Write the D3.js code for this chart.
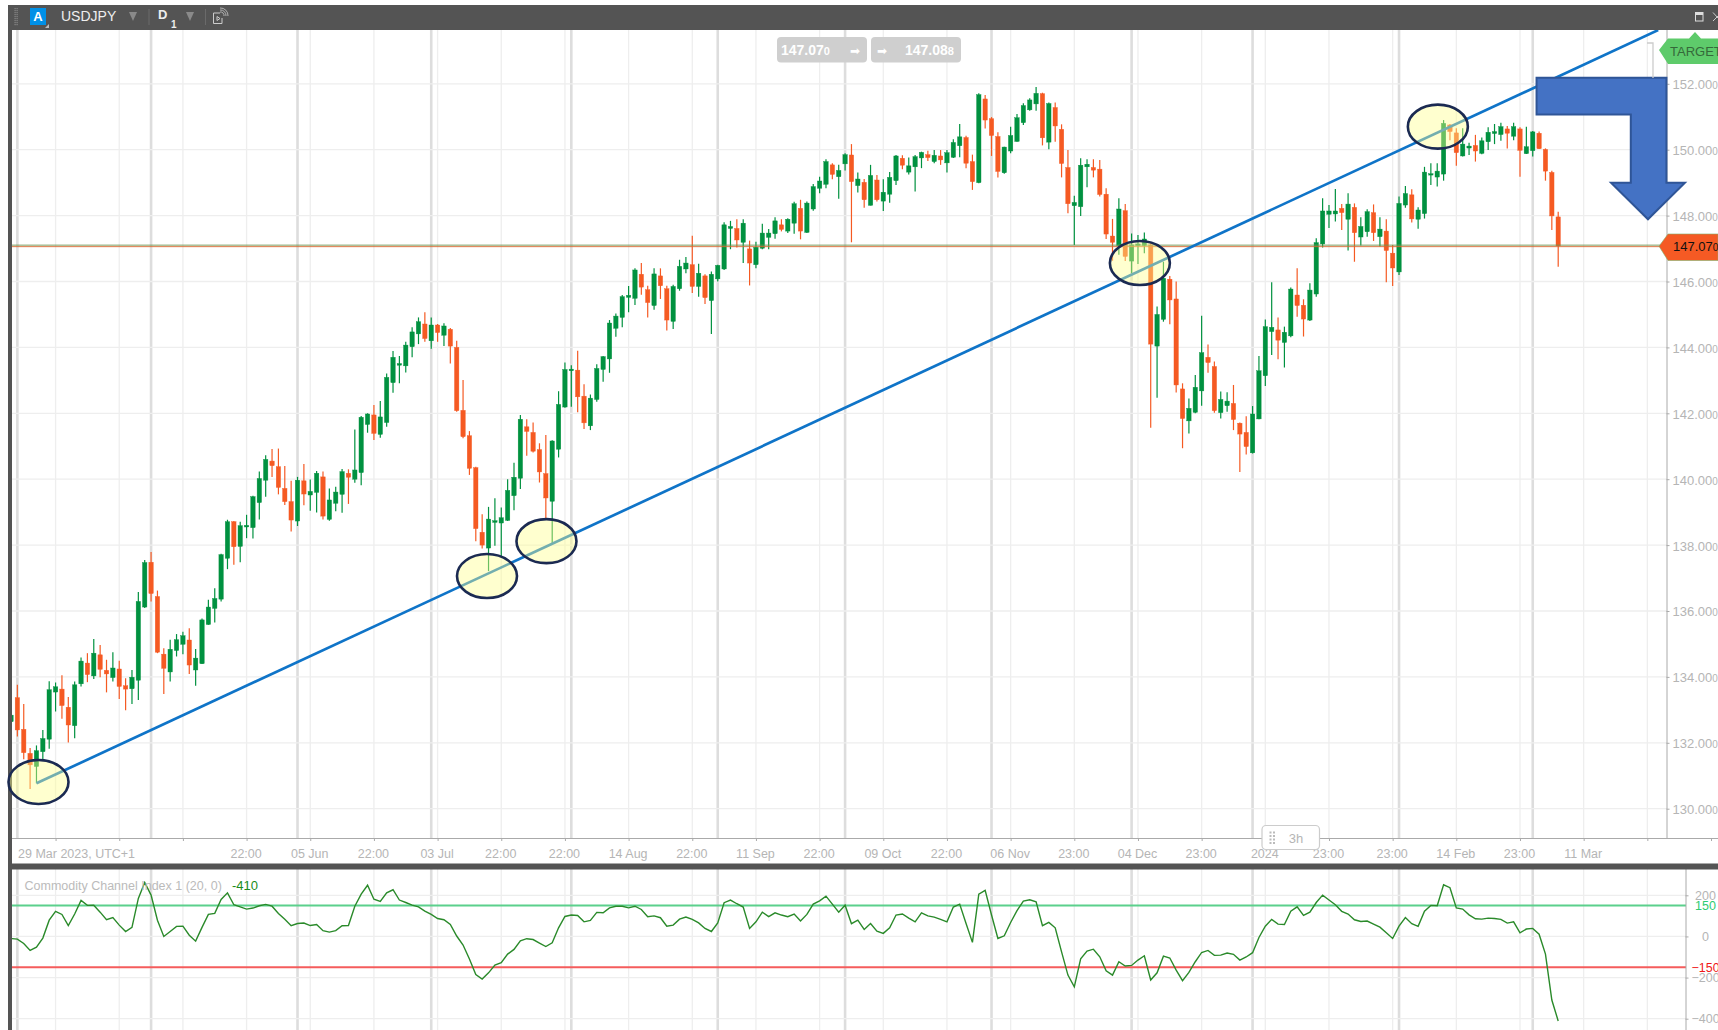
<!DOCTYPE html>
<meta charset="utf-8">

<style>
  body {
    margin: 0px;
    background: white;
    overflow: hidden;
  }

  svg {
    display: block;
  }

  text {
    font-family: "Liberation Sans", Arial, sans-serif;
  }

  .axis path, .axis line {
    stroke: #aaa;
  }

  .axis text {
    fill: #b5b5b5;
    font-size: 12.5px;
  }
</style>

<script src="https://d3js.org/d3.v7.min.js"></script>

<body>
  <svg id="chart" width="1718" height="1030"></svg>
</body>

<script>
const symbol = 'USDJPY';
const bid = 147.070;
const ask = 147.088;

const opens = [
  132.64,133.37,132.41,131.68,131.28,131.73,132.11,133.54,133.63,133.08,
  132.52,133.79,134.42,134.03,134.67,134.20,133.98,134.24,133.73,133.64,
  133.90,136.12,137.48,136.44,134.69,134.15,134.80,134.99,135.12,134.21,
  134.40,135.59,136.08,136.36,137.60,138.71,137.96,138.55,138.53,139.29,
  139.97,140.55,140.38,139.72,139.32,138.73,139.95,139.52,139.60,140.07,
  138.78,139.27,139.54,140.18,140.00,140.20,141.66,141.95,141.36,141.72,
  142.93,143.46,143.44,144.02,144.41,144.71,144.20,144.68,144.37,144.55,
  144.00,142.09,141.32,140.35,138.39,137.91,138.69,138.67,138.75,139.50,
  140.03,141.59,141.42,140.90,140.17,139.33,140.91,142.19,143.29,143.31,
  142.52,141.62,142.42,143.33,143.65,144.58,144.91,145.52,145.49,146.22,
  145.75,145.27,146.17,145.78,144.79,145.78,146.38,146.51,145.85,146.17,
  145.42,146.08,146.38,147.61,147.61,147.19,146.99,146.51,147.01,147.34,
  147.45,147.72,147.53,147.77,148.22,147.49,148.20,148.83,148.95,149.54,
  149.18,149.57,149.84,148.91,149.01,148.31,149.08,148.44,148.65,149.06,
  149.74,149.32,149.48,149.75,149.85,149.64,149.81,149.60,149.77,150.12,
  150.37,149.64,149.00,151.54,150.94,150.40,149.30,149.96,150.25,150.82,
  151.21,151.39,151.70,150.23,151.28,150.62,149.46,148.30,148.27,149.48,
  149.46,149.41,148.65,147.38,147.09,148.15,146.62,147.09,147.09,147.11,
  144.04,144.85,146.07,145.47,142.74,141.77,142.03,142.68,143.70,143.42,
  142.02,142.23,142.30,141.70,141.42,140.80,141.83,143.14,144.48,144.53,
  144.15,144.35,145.59,145.28,144.83,145.62,147.14,148.04,148.05,148.22,
  147.89,148.25,147.35,147.51,148.09,147.36,147.53,146.86,146.29,148.32,
  148.63,147.89,148.06,149.23,149.17,149.26,150.75,150.51,149.81,150.05,
  150.13,149.89,150.24,150.49,150.46,150.63,150.41,150.63,149.88,149.97,
  150.50,150.01,149.31,147.96
];

const highs = [
  133.60,133.76,133.18,131.84,131.92,132.39,133.87,133.83,134.05,133.39,
  133.86,134.59,134.72,135.15,134.97,134.52,134.75,134.49,133.96,134.21,
  136.58,137.55,137.79,136.62,134.87,135.13,135.30,135.37,135.48,134.85,
  135.77,136.34,136.69,137.74,138.77,138.73,138.71,138.92,139.50,140.23,
  140.73,140.92,140.93,140.40,139.95,140.07,140.46,139.99,140.25,140.23,
  139.72,139.77,140.31,140.30,141.51,141.92,142.00,142.25,142.37,143.21,
  143.89,143.74,144.17,144.61,144.91,145.07,144.91,144.71,144.73,144.59,
  144.20,143.01,141.46,140.38,138.94,139.16,139.42,139.14,140.00,140.50,
  141.95,141.82,141.72,141.09,141.34,141.18,142.67,143.54,143.46,143.90,
  142.88,142.57,143.49,143.74,144.83,145.03,145.59,145.86,146.40,146.56,
  145.87,146.40,146.40,145.87,145.90,146.66,146.74,147.39,146.54,146.22,
  146.30,146.51,147.80,147.84,147.89,147.89,147.24,147.21,147.75,147.59,
  147.95,147.89,147.92,148.42,148.48,148.43,148.96,149.18,149.71,149.59,
  149.54,149.89,150.17,149.31,149.11,149.54,149.23,149.10,149.32,149.84,
  149.83,149.76,149.84,149.94,149.97,149.99,149.99,149.99,150.32,150.78,
  150.42,149.85,151.71,151.66,150.99,150.53,150.09,150.70,151.08,151.41,
  151.56,151.90,151.73,151.43,151.43,150.77,149.99,148.60,149.74,149.71,
  149.71,149.69,148.83,147.90,148.53,148.35,147.46,147.41,147.49,147.16,
  145.24,146.60,146.17,146.00,142.91,142.45,143.16,144.96,144.09,143.57,
  142.66,142.64,142.86,141.72,141.91,142.22,143.74,144.85,145.98,144.91,
  144.63,145.82,146.40,145.46,145.95,147.31,148.53,148.32,148.81,148.35,
  148.68,148.37,147.95,148.19,148.34,147.95,147.89,147.11,148.58,148.90,
  148.80,148.25,149.48,149.59,149.59,150.90,150.78,150.65,150.65,150.21,
  150.45,150.37,150.68,150.78,150.82,150.72,150.82,150.68,150.70,150.57,
  150.55,150.04,149.36,148.12
];

const lows = [
  132.50,132.19,131.50,130.60,130.77,131.50,131.82,132.95,132.73,132.01,
  132.14,133.71,133.84,133.94,133.99,133.53,133.86,133.33,132.99,133.18,
  133.30,136.09,136.29,134.72,133.48,133.86,134.62,134.69,134.09,133.73,
  134.39,135.58,135.65,136.29,137.27,137.40,137.48,138.21,138.20,138.78,
  139.47,140.07,139.54,139.22,138.41,138.58,139.21,139.04,138.99,138.78,
  138.74,139.03,138.98,139.25,139.89,139.82,141.41,141.19,141.26,141.59,
  142.62,142.91,143.24,143.70,144.10,144.17,143.96,144.17,144.04,143.51,
  142.05,141.24,140.13,138.12,137.90,137.21,137.98,137.65,138.73,139.06,
  139.70,140.71,140.81,139.90,138.76,138.05,140.66,142.17,142.20,142.03,
  141.52,141.49,142.35,142.96,143.23,144.32,144.61,145.07,145.29,145.60,
  144.91,145.14,145.47,144.51,144.56,145.72,146.25,145.65,145.54,145.32,
  144.41,146.00,146.35,146.98,147.03,146.56,145.88,146.40,146.98,146.98,
  147.30,147.52,147.47,147.45,147.28,147.47,148.15,148.68,148.83,149.10,
  148.51,149.37,147.19,148.70,148.24,148.31,148.43,148.14,148.39,148.93,
  149.41,149.25,148.73,149.44,149.66,149.59,149.54,149.31,149.75,149.77,
  149.44,148.78,148.98,150.64,149.81,149.16,149.27,149.89,150.24,150.75,
  151.18,151.18,150.13,150.01,150.24,149.16,148.07,147.11,147.99,148.86,
  149.16,148.58,147.29,146.63,146.81,146.62,146.25,146.53,146.86,141.56,
  142.47,144.78,144.70,142.63,140.94,141.39,142.00,142.23,143.23,142.02,
  141.84,142.05,141.49,140.22,140.75,140.78,141.82,142.83,143.77,143.64,
  143.39,144.31,144.93,144.33,144.80,145.54,147.03,147.62,147.82,147.56,
  146.94,146.60,147.09,147.36,147.23,147.06,145.98,145.86,146.20,148.24,
  147.79,147.60,147.91,148.93,148.88,149.06,150.29,149.51,149.79,149.84,
  149.64,149.86,149.99,150.17,150.27,150.04,150.29,149.18,149.87,149.79,
  150.02,149.06,147.56,146.45
];

const closes = [
  132.84,132.39,131.70,131.33,131.76,132.13,133.61,133.70,133.13,132.54,
  133.76,134.48,134.07,134.72,134.23,134.09,134.27,133.71,133.63,133.99,
  136.29,137.47,136.53,134.75,134.26,134.84,135.13,135.25,134.36,134.57,
  135.73,136.12,136.38,137.71,138.71,137.95,138.59,138.60,139.47,140.02,
  140.60,140.41,139.75,139.32,138.76,139.97,139.55,139.63,140.18,138.88,
  139.37,139.61,140.23,140.06,140.28,141.88,141.98,141.39,141.89,143.09,
  143.70,143.51,144.07,144.47,144.78,144.27,144.68,144.45,144.65,144.04,
  142.08,141.29,140.33,138.50,138.00,138.79,138.74,138.83,139.66,140.06,
  141.82,141.45,140.85,140.22,139.43,141.16,142.27,143.33,143.34,142.50,
  141.71,142.46,143.36,143.72,144.74,144.95,145.54,145.58,146.35,145.83,
  145.36,146.23,145.87,144.83,145.85,146.46,146.56,145.85,146.25,145.51,
  146.22,146.49,147.72,147.67,147.26,147.77,146.56,147.04,147.47,147.47,
  147.84,147.58,147.89,148.36,147.53,148.38,148.88,149.05,149.64,149.25,
  149.37,149.85,149.03,149.11,148.48,149.22,148.48,148.71,149.16,149.81,
  149.53,149.51,149.79,149.92,149.76,149.83,149.69,149.91,150.22,150.39,
  149.59,149.03,151.67,150.90,150.43,149.34,150.08,150.43,150.97,151.34,
  151.51,151.71,150.36,151.40,150.72,149.58,148.36,148.40,149.53,149.56,
  149.38,148.64,147.44,147.19,148.20,146.76,147.11,147.14,147.29,144.10,
  145.00,146.10,145.44,142.86,141.84,142.15,142.79,143.84,143.54,142.08,
  142.42,142.37,141.81,141.37,140.99,141.98,143.29,144.63,144.61,144.22,
  144.46,145.77,145.27,144.86,145.74,147.18,148.14,148.14,148.14,148.09,
  148.35,147.48,147.67,148.12,147.48,147.59,146.94,146.41,148.37,148.67,
  147.90,148.17,149.32,149.27,149.35,150.80,150.55,149.91,150.17,150.11,
  149.96,150.27,150.53,150.55,150.70,150.50,150.70,149.98,150.09,150.54,
  150.03,149.35,147.99,147.08
];

const cci = [
  -10,-13,-34,-68,-52,-8,79,122,107,53,
  109,175,151,152,118,81,92,55,24,44,
  185,262,201,79,0,24,49,50,6,-23,
  44,107,112,180,212,154,144,133,138,149,
  156,147,112,83,52,63,65,53,58,28,
  21,28,52,53,147,206,249,181,170,212,
  227,177,165,152,144,123,107,87,81,58,
  2,-42,-110,-185,-207,-177,-139,-128,-86,-63,
  -21,-11,-15,-32,-49,-31,42,97,104,102,
  71,78,117,115,139,147,147,139,147,131,
  96,100,91,50,55,84,94,83,66,39,
  24,66,164,177,159,143,39,71,118,96,
  115,104,96,109,75,107,157,173,196,157,
  118,152,62,79,34,63,26,15,42,104,
  109,89,71,115,100,94,83,71,143,157,
  63,-29,206,224,104,-10,3,68,125,172,
  178,168,52,68,42,-75,-188,-245,-109,-71,
  -62,-99,-167,-188,-123,-144,-141,-115,-94,-212,
  -177,-96,-105,-164,-215,-175,-123,-78,-68,-92,
  -91,-81,-87,-115,-100,-79,-5,50,83,60,
  58,123,144,102,118,165,201,177,154,122,
  109,81,73,75,60,45,18,-10,50,92,
  62,49,123,151,149,251,237,139,133,105,
  86,84,89,87,83,65,71,18,36,39,
  11,-86,-309,-411
];

// candle indices where a month starts (the heavy vertical lines)
const monthStarts = [1, 22, 45, 66, 88, 111, 131, 154, 176, 195, 218, 239];

const timeTicks = d3.range(7, 277, 10);
const timeLabels = ['', '', '', '22:00', '05 Jun', '22:00', '03 Jul', '22:00', '22:00', '14 Aug',
  '22:00', '11 Sep', '22:00', '09 Oct', '22:00', '06 Nov', '23:00', '04 Dec', '23:00', '2024',
  '23:00', '23:00', '14 Feb', '23:00', '11 Mar', '', ''];

const priceTicks = d3.range(130, 153, 2);
const cciGrid = [200, 0, -200, -400];
const cciTicks = [200, 150, 0, -150, -200, -400];

// annotations drawn on the chart: [candle index, price]
const trendLine = [[4, 130.77], [258.7, 153.63]];
const circles = [[4.32, 130.81], [74.76, 137.06], [84.1, 138.12], [177.3, 146.56], [224.1, 150.70]];
const downArrow = [[239.6, 152.18], [260, 152.18], [260, 149], [262.9, 149], [257.1, 147.89],
  [251.3, 149], [254.4, 149], [254.4, 151.07], [239.6, 151.07]];

const green = '#00913f';
const red = '#f55a24';
const dark = '#545454';
const left = 12;
const right = 1667;
const mainTop = 30;
const mainBottom = 838;
const subTop = 869;
const subRight = 1686;

const x = d3.scaleLinear().domain([0, 243]).range([11, 1558.2]);
const y = d3.scaleLinear().domain([130, 152]).range([808.7, 83.8]);
const yCci = d3.scaleLinear().domain([-400, 200]).range([1018.7, 895.3]);

const svg = d3.select('#chart');
const defs = svg.append('defs');

defs.append('clipPath').attr('id', 'mainClip').append('rect')
    .attr('x', left).attr('y', mainTop)
    .attr('width', right - left).attr('height', mainBottom - mainTop);

defs.append('clipPath').attr('id', 'subClip').append('rect')
    .attr('x', left).attr('y', subTop)
    .attr('width', subRight - left).attr('height', 1030 - subTop);

defs.append('filter').attr('id', 'soft').append('feGaussianBlur').attr('stdDeviation', 0.35);

const main = svg.append('g').attr('clip-path', 'url(#mainClip)');
const sub = svg.append('g').attr('clip-path', 'url(#subClip)');

// grid, same verticals in both panes
for (let pane of [main, sub]) {
  pane.selectAll('.tickline')
      .data(timeTicks)
    .enter().append('line')
      .attr('x1', x).attr('x2', x)
      .attr('y1', pane === main ? mainTop : subTop)
      .attr('y2', pane === main ? mainBottom : 1030)
      .attr('stroke', '#eeeeee')
      .attr('stroke-width', 1.3);

  pane.selectAll('.monthline')
      .data(monthStarts)
    .enter().append('line')
      .attr('x1', x).attr('x2', x)
      .attr('y1', pane === main ? mainTop : subTop)
      .attr('y2', pane === main ? mainBottom : 1030)
      .attr('stroke', '#dddddd')
      .attr('stroke-width', 2.6);
}

main.selectAll('.grid')
    .data(priceTicks)
  .enter().append('line')
    .attr('x1', left).attr('x2', right)
    .attr('y1', y).attr('y2', y)
    .attr('stroke', '#eeeeee')
    .attr('stroke-width', 1.3);

sub.selectAll('.grid')
    .data(cciGrid)
  .enter().append('line')
    .attr('x1', left).attr('x2', subRight)
    .attr('y1', yCci).attr('y2', yCci)
    .attr('stroke', '#eeeeee')
    .attr('stroke-width', 1.3);

// candles
const candles = main.append('g').attr('filter', 'url(#soft)')
  .selectAll('g')
    .data(opens)
  .enter().append('g')
    .attr('fill', function(d, i) { return closes[i] >= d ? green : red })
    .attr('stroke', function(d, i) { return closes[i] >= d ? green : red });

candles.append('line')
    .attr('x1', function(d, i) { return x(i) })
    .attr('x2', function(d, i) { return x(i) })
    .attr('y1', function(d, i) { return y(highs[i]) })
    .attr('y2', function(d, i) { return y(lows[i]) })
    .attr('stroke-width', 1.2);

candles.append('rect')
    .attr('x', function(d, i) { return x(i) - 2.2 })
    .attr('width', 4.4)
    .attr('y', function(d, i) { return y(Math.max(d, closes[i])) })
    .attr('height', function(d, i) { return Math.max(1, Math.abs(y(d) - y(closes[i]))) })
    .attr('stroke-width', 0.4);

// bid and ask lines
main.append('line')
    .attr('x1', left).attr('x2', right)
    .attr('y1', y(ask) - 0.5).attr('y2', y(ask) - 0.5)
    .attr('stroke', '#6f9450').attr('stroke-width', 0.9);

main.append('line')
    .attr('x1', left).attr('x2', right)
    .attr('y1', y(bid) + 0.4).attr('y2', y(bid) + 0.4)
    .attr('stroke', '#d8662f').attr('stroke-width', 0.9);

main.append('line')
    .attr('x1', x(trendLine[0][0])).attr('y1', y(trendLine[0][1]))
    .attr('x2', x(trendLine[1][0])).attr('y2', y(trendLine[1][1]))
    .attr('stroke', '#0f74c8')
    .attr('stroke-width', 2.7);

// cci pane
sub.selectAll('.level')
    .data([[150, '#5bd08c'], [-150, '#f55c5c']])
  .enter().append('line')
    .attr('x1', left).attr('x2', subRight)
    .attr('y1', function(d) { return yCci(d[0]) })
    .attr('y2', function(d) { return yCci(d[0]) })
    .attr('stroke', function(d) { return d[1] })
    .attr('stroke-width', 2);

sub.append('path')
    .datum(cci)
    .attr('fill', 'none')
    .attr('stroke', '#2a8a2a')
    .attr('stroke-width', 1.4)
    .attr('d', d3.line().x(function(d, i) { return x(i) }).y(function(d) { return yCci(d) }));

svg.append('text')
    .attr('x', 24.5).attr('y', 889.5)
    .attr('fill', '#bbbbbb').attr('font-size', 12.5)
    .text('Commodity Channel Index 1 (20, 0)');

svg.append('text')
    .attr('x', 232).attr('y', 889.5)
    .attr('fill', '#1a8c1a').attr('font-size', 13)
    .text('-410');

// axes
const timeAxis = d3.axisBottom(x)
    .tickValues(timeTicks)
    .tickSize(3)
    .tickPadding(6)
    .tickFormat(function(d, i) { return timeLabels[i] });

svg.append('g')
    .attr('class', 'axis')
    .attr('transform', `translate(0, ${mainBottom})`)
    .call(timeAxis)
    .call(function(g) {
      g.select('.domain').attr('d', `M${left},0.5H1718`);
      g.selectAll('text').attr('dx', -1).attr('dy', '0.85em');
    });

svg.append('text')
    .attr('x', 18).attr('y', 857.5)
    .attr('fill', '#b5b5b5').attr('font-size', 12.5)
    .text('29 Mar 2023, UTC+1');

const priceAxis = d3.axisRight(y)
    .tickValues(priceTicks)
    .tickSize(3)
    .tickPadding(3)
    .tickFormat(function(d) { return d.toFixed(2) });

svg.append('g')
    .attr('class', 'axis')
    .attr('transform', `translate(${right - 0.5}, 0)`)
    .call(priceAxis)
    .call(function(g) {
      g.select('.domain').attr('d', `M0.5,${mainTop}V${mainBottom}`);
      g.selectAll('text').attr('dy', '0.38em').append('tspan').attr('font-size', 10).text('0');
      g.selectAll('text').style('font-size', '13px');
    });

const cciAxis = d3.axisRight(yCci)
    .tickValues(cciTicks)
    .tickSize(3);

svg.append('g')
    .attr('class', 'axis')
    .attr('transform', `translate(${subRight - 0.5}, 0)`)
    .call(cciAxis)
    .call(function(g) {
      g.select('.domain').attr('d', `M0.5,${subTop}V1030`);
      g.selectAll('text')
          .attr('x', 20)
          .attr('text-anchor', 'middle')
          .style('fill', function(d) { return d === 150 ? '#2ecc71' : d === -150 ? '#f01818' : '#b5b5b5' });
      g.selectAll('line').filter(function(d) { return d === 150 || d === -150 }).remove();
    });

// blue arrow goes over the axis, so it sits outside the clip
svg.append('path')
    .attr('d', d3.line().x(function(d) { return x(d[0]) }).y(function(d) { return y(d[1]) }).curve(d3.curveLinearClosed)(downArrow))
    .attr('fill', '#4472c4')
    .attr('stroke', '#2f5597')
    .attr('stroke-width', 2);

// target bracket
svg.append('path')
    .attr('d', 'M1647,43H1653V78')
    .attr('fill', 'none')
    .attr('stroke', '#cccccc')
    .attr('stroke-width', 1.3);

// price tags on the right
svg.append('path')
    .attr('d', 'M1659,50L1668,38.5H1689L1695,32L1701,38.5H1718V64H1668Z')
    .attr('fill', '#5ecb6b');

svg.append('text')
    .attr('x', 1670).attr('y', 56)
    .attr('fill', '#35693a').attr('font-size', 13)
    .text('TARGET');

svg.append('path')
    .attr('d', `M1659,${y(bid)}L1668,234H1718V260.5H1668Z`)
    .attr('fill', red)
    .attr('stroke', '#7fb069')
    .attr('stroke-width', 0.6);

const bidTag = svg.append('text')
    .attr('x', 1673).attr('y', 251)
    .attr('fill', '#111').attr('font-size', 13)
    .text(bid.toFixed(3).slice(0, -1));
bidTag.append('tspan').attr('font-size', 10).text(bid.toFixed(3).slice(-1));

// bid / ask boxes at the top
const boxes = svg.selectAll('.box')
    .data([[777, bid, 781, 855], [871, ask, 905, 882]])
  .enter().append('g');

boxes.append('rect')
    .attr('x', function(d) { return d[0] })
    .attr('y', 37)
    .attr('width', 90)
    .attr('height', 25.5)
    .attr('rx', 4)
    .attr('fill', '#cfcfcf');

const boxText = boxes.append('text')
    .attr('x', function(d) { return d[2] })
    .attr('y', 55)
    .attr('fill', 'white')
    .attr('font-size', 14)
    .attr('font-weight', 'bold')
    .text(function(d) { return d[1].toFixed(3).slice(0, -1) });

boxText.append('tspan')
    .attr('font-size', 11)
    .text(function(d) { return d[1].toFixed(3).slice(-1) });

boxes.append('text')
    .attr('x', function(d) { return d[3] })
    .attr('y', 55)
    .attr('fill', 'white')
    .attr('font-size', 12)
    .attr('text-anchor', 'middle')
    .style('font-family', '"DejaVu Sans"')
    .text('➡');

// "3h" button on the time axis
svg.append('rect')
    .attr('x', 1262).attr('y', 825.5)
    .attr('width', 57.5).attr('height', 24)
    .attr('rx', 4)
    .attr('fill', 'white')
    .attr('stroke', '#cccccc')
    .attr('stroke-width', 1.2);

svg.append('text')
    .attr('x', 1296).attr('y', 842.5)
    .attr('text-anchor', 'middle')
    .attr('fill', '#b5b5b5').attr('font-size', 13)
    .text('3h');

svg.selectAll('.grip')
    .data(d3.cross([1269.5, 1273], [831.5, 835, 838.5, 842]))
  .enter().append('rect')
    .attr('x', function(d) { return d[0] })
    .attr('y', function(d) { return d[1] })
    .attr('width', 2).attr('height', 2)
    .attr('fill', '#bbbbbb');

// window chrome
svg.append('rect').attr('x', 8).attr('y', 5).attr('width', 1710).attr('height', 25).attr('fill', dark);
svg.append('rect').attr('x', 8).attr('y', 5).attr('width', 4).attr('height', 1025).attr('fill', dark);
svg.append('rect').attr('x', 8).attr('y', 863.5).attr('width', 1710).attr('height', 6).attr('fill', dark);

// circles were pasted on top of the screenshot, they cover the left border too
svg.selectAll('.mark-circle')
    .data(circles)
  .enter().append('ellipse')
    .attr('cx', function(d) { return x(d[0]) })
    .attr('cy', function(d) { return y(d[1]) })
    .attr('rx', 30)
    .attr('ry', 22)
    .attr('fill', 'rgba(255, 255, 140, 0.42)')
    .attr('stroke', '#1b2a52')
    .attr('stroke-width', 2.6);

svg.selectAll('.toolgrip')
    .data(d3.cross([14.5, 16.5], d3.range(8, 26, 2)))
  .enter().append('rect')
    .attr('x', function(d) { return d[0] })
    .attr('y', function(d) { return d[1] })
    .attr('width', 1.2).attr('height', 1.2)
    .attr('fill', '#888888');

svg.append('rect').attr('x', 30).attr('y', 8).attr('width', 16).attr('height', 17).attr('fill', '#0090e6');
svg.append('text').attr('x', 38).attr('y', 21).attr('text-anchor', 'middle')
    .attr('fill', 'white').attr('font-size', 13).attr('font-weight', 'bold').text('A');
svg.append('path').attr('d', 'M45,28L49,28L49,24Z').attr('fill', '#bbbbbb');

svg.append('text').attr('x', 61).attr('y', 21)
    .attr('fill', '#eeeeee').attr('font-size', 14).text(symbol);

svg.selectAll('.drop')
    .data([133, 190])
  .enter().append('path')
    .attr('d', function(d) { return `M${d - 4},12H${d + 4}L${d},21Z` })
    .attr('fill', '#8a8a8a');

svg.selectAll('.sep')
    .data([149, 205.5])
  .enter().append('line')
    .attr('x1', function(d) { return d }).attr('x2', function(d) { return d })
    .attr('y1', 9).attr('y2', 25)
    .attr('stroke', '#6a6a6a');

svg.append('text').attr('x', 158).attr('y', 19)
    .attr('fill', '#eeeeee').attr('font-size', 13).attr('font-weight', 'bold').text('D');
svg.append('text').attr('x', 171).attr('y', 28)
    .attr('fill', '#eeeeee').attr('font-size', 10).attr('font-weight', 'bold').text('1');

// stream icon
svg.append('path')
    .attr('d', 'M220,13H213.5V23.5H222V18M217,16.5L220,18.5L217,20.5Z')
    .attr('fill', 'none').attr('stroke', '#cccccc').attr('stroke-width', 1);
svg.append('path')
    .attr('d', 'M220,12A3.5,3.5,0,0,1,224,16M220,10A5.5,5.5,0,0,1,226,16M220,8A7.5,7.5,0,0,1,228,16')
    .attr('fill', 'none').attr('stroke', '#bbbbbb').attr('stroke-width', 0.9);

svg.append('rect').attr('x', 1695.5).attr('y', 12.5).attr('width', 7.5).attr('height', 8.5)
    .attr('fill', 'none').attr('stroke', '#dddddd').attr('stroke-width', 1);
svg.append('line').attr('x1', 1695.5).attr('x2', 1703).attr('y1', 14).attr('y2', 14)
    .attr('stroke', '#dddddd').attr('stroke-width', 2);
svg.append('path').attr('d', 'M1713,12.5L1718,18M1713,21L1718,16')
    .attr('fill', 'none').attr('stroke', '#cccccc').attr('stroke-width', 1);
</script>
